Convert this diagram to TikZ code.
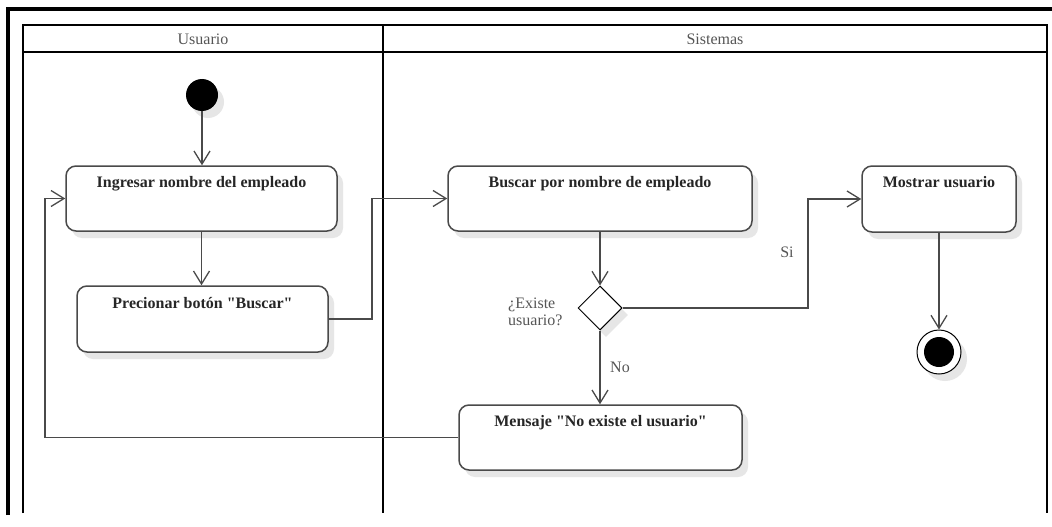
\documentclass[tikz,border=0pt]{standalone}
\usepackage{fontspec}
\setmainfont{Liberation Serif}[Ligatures=TeXOff]
\usetikzlibrary{arrows.meta,shapes.geometric,shadows}
\definecolor{linegray}{HTML}{4A4A4A}
\definecolor{labelgray}{HTML}{555555}
\definecolor{textdark}{HTML}{262626}
\definecolor{shadowgray}{HTML}{E6E6E6}
\tikzset{
  softshadow/.style={drop shadow={shadow xshift=6pt, shadow yshift=-7pt, fill=shadowgray, opacity=1}},
  act/.style={rectangle, rounded corners=10pt, draw=linegray, line width=1.5pt,
              fill=white, softshadow, inner sep=0pt},
  acttext/.style={font=\fontsize{16}{18}\selectfont\bfseries, text=textdark, inner sep=1pt},
  lanetext/.style={font=\fontsize{16}{18}\selectfont, text=labelgray, inner sep=1pt},
  lbl/.style={font=\fontsize{16}{17}\selectfont, text=labelgray, inner sep=1pt},
  flow/.style={draw=linegray, line width=1.6pt,
               -{Straight Barb[length=13pt,width=16pt,line width=1.3pt]}},
  lane/.style={draw=black, line width=2pt},
}
\begin{document}
\begin{tikzpicture}[x=1pt,y=-1pt]
\useasboundingbox (0,0) rectangle (1052,527);
\fill[white] (0,0) rectangle (1052,527);

% outer frame
\draw[line width=4pt, line join=miter] (8,515) -- (8,9) -- (1052,9);

% swimlanes
\draw[lane] (23,513) -- (23,25) -- (1047,25) -- (1047,513);
\draw[lane] (23,52) -- (1047,52);
\draw[lane] (383,25) -- (383,513);
\node[lanetext] (hU) at (203,39) {Usuario};
\node[lanetext] (hS) at (715,39) {Sistemas};

% start and end
\node[circle, fill=black, minimum size=32pt, inner sep=0pt, softshadow] (start) at (202,95) {};
\node[circle, draw=black, line width=1pt, fill=white, minimum size=44pt, inner sep=0pt, softshadow] (end) at (939,352) {};
\node[circle, fill=black, minimum size=30pt, inner sep=0pt] (endDot) at (end.center) {};

% actions
\node[act, minimum width=271pt, minimum height=65pt] (ing) at (201.5,198.5) {};
\node[acttext] (ingT) at ([yshift=-18pt]ing.north) {Ingresar nombre del empleado};

\node[act, minimum width=251pt, minimum height=66pt] (pre) at (202.5,319) {};
\node[acttext] (preT) at ([yshift=-18pt]pre.north) {Precionar botón "Buscar"};

\node[act, minimum width=304pt, minimum height=65pt] (bus) at (600,198.5) {};
\node[acttext] (busT) at ([yshift=-18pt]bus.north) {Buscar por nombre de empleado};

\node[act, minimum width=154pt, minimum height=66pt] (mos) at (939,199) {};
\node[acttext] (mosT) at ([yshift=-17pt]mos.north) {Mostrar usuario};

\node[act, minimum width=283pt, minimum height=65pt] (msg) at (600.5,437.5) {};
\node[acttext] (msgT) at ([yshift=-18pt]msg.north) {Mensaje "No existe el usuario"};

% decision
\node[diamond, aspect=1, draw=black, line width=1pt, fill=white,
      minimum width=44pt, minimum height=44pt, inner sep=0pt, softshadow] (dec) at (600,308) {};
\node[lbl, anchor=west, align=left] (qlbl) at (507,311.5) {¿Existe\\usuario?};
\node[lbl] (siL) at (787,252) {Si};
\node[lbl] (noL) at (620,367) {No};

% turning points
\coordinate (preTurn) at (372,319);
\coordinate (siTurn) at (808,308);
\coordinate (noTurn) at (45,437.5);

% flows
\draw[flow] (start.south) -- (start.south |- ing.north);
\draw[flow] (ing.south) -- (ing.south |- pre.north);
\draw[flow] (pre.east) -- (preTurn) |- (bus.west);
\draw[flow] (bus.south) -- (dec.north);
\draw[flow] (dec.east) -- (siTurn) |- (mos.west);
\draw[flow] (dec.south) -- (dec.south |- msg.north);
\draw[flow] (msg.west) -- (noTurn) |- (ing.west);
\draw[flow] (mos.south) -- (end.north);
\end{tikzpicture}
\end{document}
